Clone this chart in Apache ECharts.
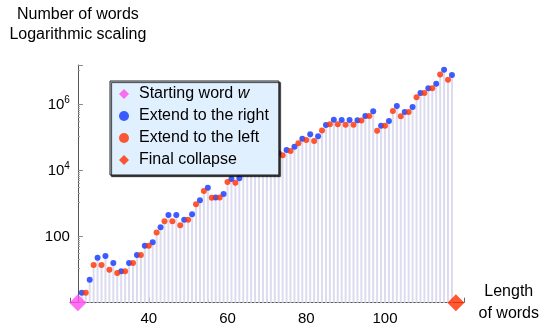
<!DOCTYPE html>
<html>
<head>
<meta charset="utf-8">
<script src="https://cdn.jsdelivr.net/npm/echarts@6/dist/echarts.min.js"></script>
<style>
html, body { margin: 0; padding: 0; background: #fff; }
#chart { width: 542px; height: 328px; }
</style>
</head>
<body>
<div id="chart"></div>
<script>
// word lengths where the word was extended to the right (blue) / to the left (red)
const rightLengths = [23, 25, 27, 29, 31, 33, 35, 37, 39, 41, 43, 45, 47, 49, 51, 53, 55, 57, 59, 61,
	63, 65, 67, 69, 71, 73, 75, 77, 79, 81, 83, 85, 87, 89, 91, 93, 95, 97, 99, 101,
	103, 105, 107, 109, 111, 113, 115, 117];
const rightCounts = [2, 5, 23, 26, 16, 9, 16, 28, 53, 68, 193, 454, 454, 327, 478, 1270, 3050, 1540, 1970, 5600,
	5890, 15000, 20000, 24000, 28000, 33650, 42400, 53400, 93000, 127000, 110000, 243000, 351000, 344000, 344000, 337000, 455000, 631000, 231000, 321000,
	912000, 601000, 852000, 2260000, 3140000, 4330000, 11500000, 7940000];
const leftLengths = [24, 26, 28, 30, 32, 34, 36, 38, 40, 42, 44, 46, 48, 50, 52, 54, 56, 58, 60, 62,
	64, 66, 68, 70, 72, 74, 76, 78, 80, 82, 84, 86, 88, 90, 92, 94, 96, 98, 100, 102,
	104, 106, 108, 110, 112, 114, 116];
const leftCounts = [2, 14, 14, 10, 8, 9, 16, 28, 53, 135, 293, 293, 221, 327, 960, 2430, 1520, 1540, 4550, 4330,
	12000, 13000, 18000, 22000, 26000, 29300, 39500, 67600, 85000, 79000, 167000, 255000, 255000, 248000, 248000, 330000, 455000, 163000, 231000, 645000,
	445000, 601000, 1675000, 2260000, 3140000, 8300000, 5720000];
const startPoint = [22, 1];
const collapsePoint = [118, 1];
const seriesNames = ['Starting word w', 'Extend to the right', 'Extend to the left', 'Final collapse'];

const rightData = rightLengths.map((x, i) => [x, rightCounts[i]]);
const leftData = leftLengths.map((x, i) => [x, leftCounts[i]]);
const stemData = rightData.concat(leftData);

const font = 'Liberation Sans, Arial, sans-serif';
const chart = echarts.init(document.getElementById('chart'), null, { renderer: 'canvas' });

chart.setOption({
	animation: false,
	textStyle: { fontFamily: font },
	grid: { left: 70, right: 75.4, top: 65, bottom: 25.3, containLabel: false },
	legend: {
		data: seriesNames,
		orient: 'vertical',
		left: 110,
		top: 81,
		itemWidth: 10,
		itemHeight: 10,
		itemGap: 6,
		padding: [5, 10, 7, 9],
		backgroundColor: '#e1f0ff',
		borderColor: '#222',
		borderWidth: 1,
		borderRadius: 0,
		shadowColor: 'rgba(0,0,0,0.8)',
		shadowBlur: 1,
		shadowOffsetX: 1.5,
		shadowOffsetY: 1.5,
		formatter: (name) => (name === 'Starting word w' ? 'Starting word {i|w}' : name),
		textStyle: {
			fontSize: 16,
			color: '#000',
			fontFamily: font,
			padding: [0, 0, 0, 5],
			rich: { i: { fontSize: 16, fontStyle: 'italic', fontFamily: font } }
		}
	},
	xAxis: {
		type: 'value',
		min: 20,
		max: 120,
		interval: 20,
		name: 'Length\nof words',
		nameLocation: 'end',
		nameGap: 45,
		nameTextStyle: { fontSize: 16, color: '#000', align: 'center', verticalAlign: 'middle', lineHeight: 22 },
		axisLine: { show: true, onZero: false, lineStyle: { color: '#555', width: 1 } },
		axisTick: { show: true, inside: true, length: 5, lineStyle: { color: '#666' } },
		minorTick: { show: true, splitNumber: 4, length: 3, lineStyle: { color: '#777' } },
		splitLine: { show: false },
		axisLabel: {
			fontSize: 15,
			color: '#000',
			margin: 9,
			showMinLabel: false,
			showMaxLabel: false,
			formatter: (v) => (v === 20 || v === 120 ? '' : String(v))
		}
	},
	yAxis: {
		type: 'log',
		logBase: 100,
		min: 1,
		max: 1.6e7,
		offset: -7.9,
		name: 'Number of words\nLogarithmic scaling',
		nameLocation: 'end',
		nameGap: 20,
		nameTextStyle: { fontSize: 16, color: '#000', align: 'center', lineHeight: 20 },
		axisLine: { show: true, lineStyle: { color: '#555', width: 1 } },
		axisTick: { show: true, inside: true, length: 5, lineStyle: { color: '#888' } },
		minorTick: { show: true, splitNumber: 10, length: 2, lineStyle: { color: '#999' } },
		splitLine: { show: false },
		axisLabel: {
			fontSize: 15,
			color: '#000',
			margin: 8,
			showMaxLabel: false,
			formatter: (v) => {
				const p = Math.round(Math.log10(v));
				if (p === 0 || p % 2 === 1) return '';
				if (p === 2) return '100';
				return '10{sup|' + p + '}';
			},
			rich: {
				sup: { fontSize: 10, padding: [0, 0, 9, 0] }
			}
		}
	},
	series: [
		{
			name: 'stems',
			type: 'custom',
			z: 1,
			silent: true,
			data: stemData,
			renderItem: (params, api) => {
				const top = api.coord([api.value(0), api.value(1)]);
				const base = api.coord([api.value(0), 1]);
				return {
					type: 'line',
					shape: { x1: top[0], y1: top[1], x2: base[0], y2: base[1] },
					style: { stroke: '#dcdbef', lineWidth: 2 }
				};
			}
		},
		{
			name: seriesNames[1],
			type: 'scatter',
			symbol: 'circle',
			symbolSize: 6,
			z: 3,
			clip: false,
			itemStyle: { color: '#0f34ff' },
			data: rightData
		},
		{
			name: seriesNames[2],
			type: 'scatter',
			symbol: 'circle',
			symbolSize: 6,
			z: 3,
			clip: false,
			itemStyle: { color: '#ff3000' },
			data: leftData
		},
		{
			name: seriesNames[0],
			type: 'scatter',
			symbol: 'diamond',
			symbolSize: 17,
			z: 4,
			clip: false,
			itemStyle: { color: '#ff4cef' },
			data: [startPoint]
		},
		{
			name: seriesNames[3],
			type: 'scatter',
			symbol: 'diamond',
			symbolSize: 17,
			z: 4,
			clip: false,
			itemStyle: { color: '#ff3000' },
			data: [collapsePoint]
		}
	]
});
</script>
</body>
</html>
